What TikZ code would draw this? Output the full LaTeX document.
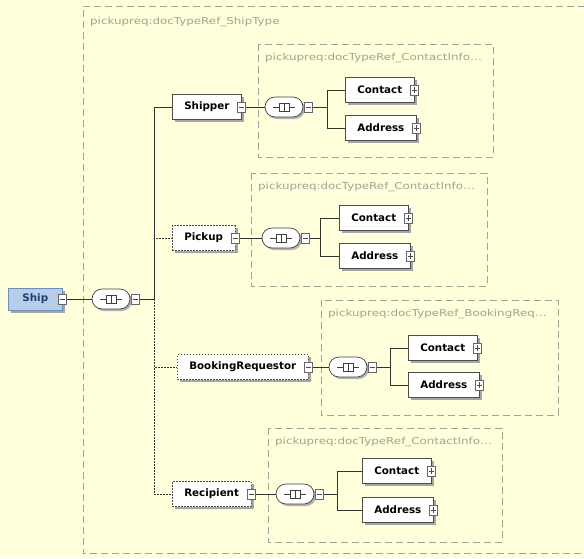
\documentclass[tikz,border=0pt]{standalone}
\usepackage{fontspec}
\setmainfont{DejaVu Sans}
\newfontfamily\typefont[FakeStretch=1.25]{DejaVu Sans}
\usetikzlibrary{shapes.misc,shadows}

\definecolor{paper}{HTML}{FFFFDC}
\definecolor{typegray}{HTML}{A2A296}
\definecolor{shipblue}{HTML}{B7CEEA}
\definecolor{shipline}{HTML}{6F8FB6}
\definecolor{shipink}{HTML}{1E3C6E}

\begin{document}
\begin{tikzpicture}[
  x=1pt,y=-1pt,
  wire/.style={draw=black!80,line width=.8pt},
  optwire/.style={wire,dash pattern=on 1.5pt off 1.5pt},
  typebox/.style={draw=typegray,line width=.8pt,dash pattern=on 7pt off 4pt},
  typelabel/.style={font=\typefont\fontsize{9.5}{11}\selectfont,text=typegray,anchor=west,inner sep=0pt},
  elem/.style={draw=black!70,fill=white,line width=.6pt,anchor=west,
    font=\fontsize{10.3}{12}\selectfont\bfseries,inner xsep=12pt,minimum height=25pt,
    drop shadow={shadow xshift=2.5pt,shadow yshift=-2.5pt,fill=black!35,opacity=1}},
  optelem/.style={elem,dash pattern=on 1.5pt off 1.5pt},
  rootelem/.style={elem,fill=shipblue,draw=shipline,text=shipink,minimum width=54pt,minimum height=22pt},
  seq/.style={rounded rectangle,draw=black!75,fill=white,line width=.7pt,
    minimum width=38pt,minimum height=20pt,inner sep=0pt,
    drop shadow={shadow xshift=2pt,shadow yshift=-2pt,fill=black!30,opacity=1},
    path picture={
      \draw[black!75,line width=.6pt] ([xshift=-11pt]path picture bounding box.center)
        -- ([xshift=11pt]path picture bounding box.center);
      \draw[black!75,line width=.5pt,fill=white] ([shift={(-5pt,-4pt)}]path picture bounding box.center)
        rectangle ([shift={(5pt,4pt)}]path picture bounding box.center);
      \draw[black!75,line width=.5pt] ([yshift=-4pt]path picture bounding box.center)
        -- ([yshift=4pt]path picture bounding box.center);
    }},
  expbox/.style={draw=black!60,fill=white,line width=.5pt,minimum width=8pt,minimum height=10pt,inner sep=0pt},
  collapse/.style={expbox,
    path picture={\draw[black!70,line width=.5pt] ([xshift=-2.5pt]path picture bounding box.center)
      -- ([xshift=2.5pt]path picture bounding box.center);}},
  expand/.style={expbox,
    path picture={\draw[black!70,line width=.5pt] ([xshift=-2.5pt]path picture bounding box.center)
      -- ([xshift=2.5pt]path picture bounding box.center)
      ([yshift=-3pt]path picture bounding box.center) -- ([yshift=3pt]path picture bounding box.center);}}
]
  \useasboundingbox[fill=paper] (0,0) rectangle (584,558);

  % complex type ShipType, cut off at the right
  \draw[typebox] (596,6) -- (83,6) -- (83,553) -- (596,553);
  \node[typelabel] (shiptype) at (90,22) {pickupreq:docTypeRef\_ShipType};

  % referenced types of the children
  \foreach \grp/\x/\y/\xx/\yy/\txt in
    {shipper/258/44/493/157/ContactInfo\ldots,
     pickup/251/173/487/286/ContactInfo\ldots,
     booking/321/300/558/415/BookingReq\ldots,
     recipient/268/428/502/542/ContactInfo\ldots}
  {
    \draw[typebox] (\x,\y) rectangle (\xx,\yy);
    \node[typelabel] (\grp-type) at (\x+7,\y+14) {pickupreq:docTypeRef\_\txt};
  }

  % root element and its sequence
  \node[rootelem] (ship) at (8,299) {Ship};
  \node[collapse] (ship-exp) at (ship.east) {};
  \node[seq] (main-seq) at (111,299) {};
  \node[collapse,anchor=west] (main-seqexp) at ([xshift=1pt]main-seq.east) {};
  \coordinate (main-j) at (154,299);
  \draw[wire] (ship-exp) -- (main-seq);
  \draw[wire] (main-seqexp) -- (main-j);

  \node[elem] (shipper) at (172,107) {Shipper};
  \node[optelem] (pickup) at (172,238) {Pickup};
  \node[optelem] (booking) at (177,367) {BookingRequestor};
  \node[optelem] (recipient) at (172,494) {Recipient};
  \draw[wire] (main-j) |- (shipper);
  \draw[optwire] (main-j) |- (pickup);
  \draw[optwire] (main-j) |- (booking);
  \draw[optwire] (main-j) |- (recipient);

  \foreach \grp/\sx/\bx/\cx/\cy/\ay in
    {shipper/284/327/345/90/128,
     pickup/281/320/339/218/256,
     booking/348/390/408/348/385,
     recipient/295/337/362/471/510}
  {
    \node[collapse] (\grp-exp) at (\grp.east) {};
    \node[seq] (\grp-seq) at (\sx,0 |- \grp.east) {};
    \node[collapse,anchor=west] (\grp-seqexp) at ([xshift=1pt]\grp-seq.east) {};
    \coordinate (\grp-j) at (\bx,0 |- \grp-seq.center);
    \node[elem] (\grp-contact) at (\cx,\cy) {Contact};
    \node[expand] (\grp-contactexp) at (\grp-contact.east) {};
    \node[elem] (\grp-address) at (\cx,\ay) {Address};
    \node[expand] (\grp-addressexp) at (\grp-address.east) {};
    \draw[wire] (\grp-exp) -- (\grp-seq);
    \draw[wire] (\grp-seqexp) -- (\grp-j) |- (\grp-contact);
    \draw[wire] (\grp-j) |- (\grp-address);
  }
\end{tikzpicture}
\end{document}
